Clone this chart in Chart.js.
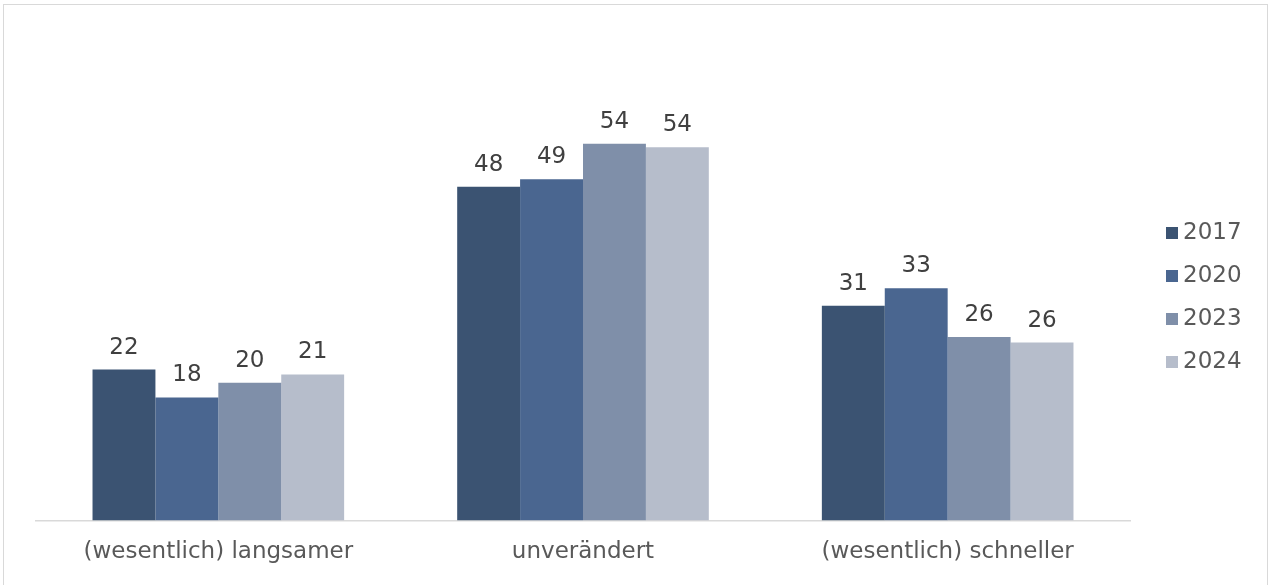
<!DOCTYPE html>
<html>
<head>
<meta charset="utf-8">
<script src="https://cdn.jsdelivr.net/npm/chart.js@4.4.1/dist/chart.umd.min.js"></script>
<style>
html,body{margin:0;padding:0;background:#fff;}
#frame{position:absolute;left:3px;top:4px;width:1265px;height:600px;border:1px solid #d9d9d9;box-sizing:border-box;}
#wrap{position:absolute;left:0;top:0;width:1270px;height:585px;}
</style>
</head>
<body>
<div id="frame"></div>
<div id="wrap"><canvas id="c"></canvas></div>
<script>
const categories = ["(wesentlich) langsamer", "unverändert", "(wesentlich) schneller"];
const seriesNames = ["2017", "2020", "2023", "2024"];
const values2017 = [21.7, 48.0, 30.9];
const values2020 = [17.7, 49.1, 33.4];
const values2023 = [19.8, 54.2, 26.4];
const values2024 = [21.0, 53.7, 25.6];
const colors = ["#3b5372", "#4a6690", "#7f8fa9", "#b6bdcb"];

const FONT = "'DejaVu Sans', Verdana, sans-serif";

const valueLabels = {
  id: 'valueLabels',
  afterDatasetsDraw(chart) {
    const ctx = chart.ctx;
    ctx.save();
    ctx.font = "23px " + FONT;
    ctx.fillStyle = "#404040";
    ctx.textAlign = "center";
    ctx.textBaseline = "alphabetic";
    chart.data.datasets.forEach((ds, i) => {
      const meta = chart.getDatasetMeta(i);
      meta.data.forEach((bar, j) => {
        ctx.fillText(String(Math.round(ds.data[j])), bar.x, bar.y - 16);
      });
    });
    ctx.restore();
  }
};

const sideLegend = {
  id: 'sideLegend',
  afterDraw(chart) {
    const ctx = chart.ctx;
    const ds = chart.data.datasets;
    const step = 43;
    const cy = 296.5;
    const x0 = chart.chartArea.right + 36;
    ctx.save();
    ctx.font = "23px " + FONT;
    ctx.textAlign = "left";
    ctx.textBaseline = "middle";
    ds.forEach((d, i) => {
      const y = cy + (i - (ds.length - 1) / 2) * step;
      ctx.fillStyle = d.backgroundColor;
      ctx.fillRect(x0, y - 5, 12, 12);
      ctx.fillStyle = "#595959";
      ctx.fillText(d.label, x0 + 17, y + 1);
    });
    ctx.restore();
  }
};

const allSeries = [values2017, values2020, values2023, values2024];
new Chart(document.getElementById('c'), {
  type: 'bar',
  data: {
    labels: categories,
    datasets: allSeries.map((v, i) => ({
      label: seriesNames[i],
      data: v,
      backgroundColor: colors[i],
      borderWidth: 0,
      categoryPercentage: 0.69,
      barPercentage: 1.0
    }))
  },
  options: {
    responsive: true,
    maintainAspectRatio: false,
    animation: false,
    layout: { padding: { left: 36, right: 140, top: 34, bottom: 1 } },
    plugins: {
      legend: { display: false },
      tooltip: { enabled: false }
    },
    scales: {
      x: {
        grid: { display: false, drawTicks: false },
        border: { display: true, color: "#d9d9d9", width: 1.5 },
        ticks: { color: "#595959", font: { family: FONT, size: 23 }, padding: 18 }
      },
      y: {
        display: false,
        min: 0,
        max: 70
      }
    }
  },
  plugins: [valueLabels, sideLegend]
});
</script>
</body>
</html>
